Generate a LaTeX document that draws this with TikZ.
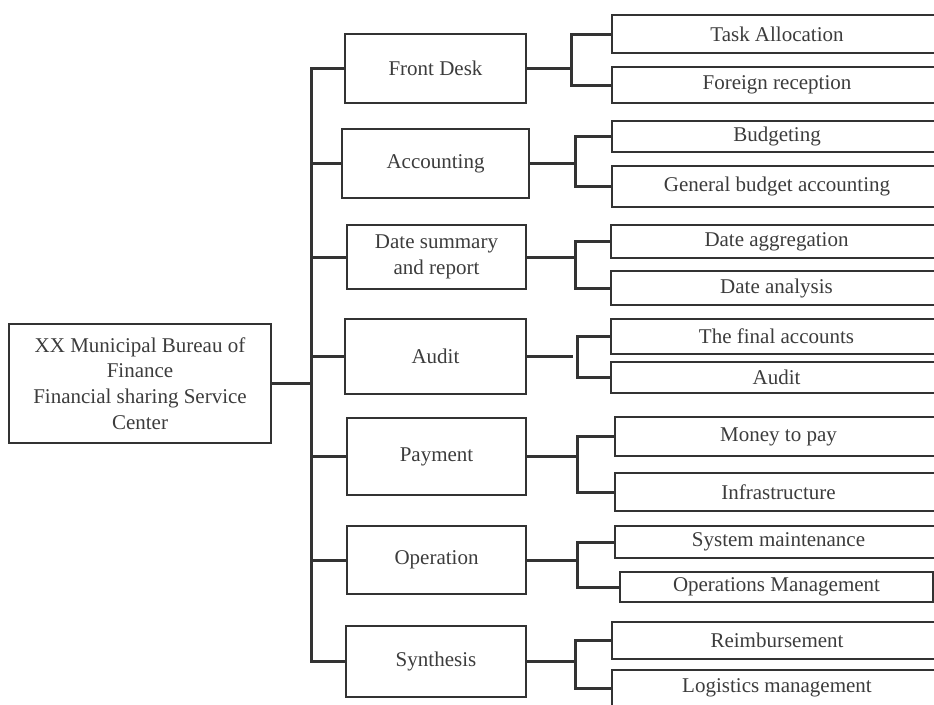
\documentclass[tikz,border=0pt]{standalone}
\usepackage{fontspec}
\setmainfont{Liberation Serif}
\definecolor{ink}{HTML}{333333}
\definecolor{txt}{HTML}{3C3C3C}
% \boxat{name}{left}{top}{right}{bottom}{text}
\newcommand\boxat[6]{%
  \node[orgbox, minimum width={(#4-#2)*1pt}, minimum height={(#5-#3)*1pt}]
    (#1) at ({(#2+#4)/2},{(#3+#5)/2}) {#6};}
\begin{document}
\begin{tikzpicture}[x=1pt,y=-1pt,
  orgbox/.style={draw=ink, line width=2.9pt, inner sep=0pt, text=txt,
    font=\fontsize{21}{25.8}\selectfont, align=center},
  link/.style={draw=ink, line width=3pt}]
\useasboundingbox (0,0) rectangle (934,704);
\clip (0,0) rectangle (934,704);

% root
\boxat{root}{9}{324}{271}{443}{XX Municipal Bureau of\\Finance\\Financial sharing Service\\Center}

% departments
\boxat{fd}{345}{34}{526}{103}{Front Desk}
\boxat{ac}{342}{129}{529}{198}{Accounting}
\boxat{ds}{347}{225}{526}{289}{Date summary\\and report}
\boxat{au}{345}{319}{526}{394}{Audit}
\boxat{pa}{347}{418}{526}{495}{Payment}
\boxat{op}{347}{526}{526}{594}{Operation}
\boxat{sy}{346}{626}{526}{697}{Synthesis}

% functions
\boxat{ta}{612}{15}{942}{53}{Task Allocation}
\boxat{fr}{612}{67}{942}{103}{Foreign reception}
\boxat{bu}{612}{121}{942}{152}{Budgeting}
\boxat{gb}{612}{166}{942}{207}{General budget accounting}
\boxat{da}{611}{225}{942}{258}{Date aggregation}
\boxat{dn}{611}{271}{942}{305}{Date analysis}
\boxat{fa}{611}{319}{942}{354}{The final accounts}
\boxat{al}{611}{362}{942}{393}{Audit}
\boxat{mp}{615}{417}{942}{456}{Money to pay}
\boxat{in}{615}{473}{942}{511}{Infrastructure}
\boxat{sm}{615}{526}{942}{558}{System maintenance}
\boxat{om}{620}{572}{933}{602}{Operations Management}
\boxat{re}{612}{622}{942}{659}{Reimbursement}
\boxat{lg}{612}{670}{942}{706}{Logistics management}

% trunk
\coordinate (tr) at (311,383.5);
\draw[link] (root.east) -- (tr);
\draw[link] (fd.west) -| (tr) |- (sy.west);
\foreach \n in {ac,ds,au,pa,op}
  \draw[link] (\n.west) -- (\n.west -| tr);

% brackets
\coordinate (s1) at (571,68.5);
\draw[link] (fd.east) -- (s1);
\draw[link] (ta.west) -| (s1) |- (fr.west);

\coordinate (s2) at (575,163.5);
\draw[link] (ac.east) -- (s2);
\draw[link] (bu.west) -| (s2) |- (gb.west);

\coordinate (s3) at (575,257);
\draw[link] (ds.east) -- (s3);
\draw[link] (da.west) -| (s3) |- (dn.west);

\coordinate (a4) at (573,356.5);
\coordinate (s4) at (577,356.5);
\draw[link] (au.east) -- (a4);
\draw[link] (fa.west) -| (s4) |- (al.west);

\coordinate (s5) at (577,456.5);
\draw[link] (pa.east) -- (s5);
\draw[link] (mp.west) -| (s5) |- (in.west);

\coordinate (s6) at (577,560);
\draw[link] (op.east) -- (s6);
\draw[link] (sm.west) -| (s6) |- (om.west);

\coordinate (s7) at (575,661.5);
\draw[link] (sy.east) -- (s7);
\draw[link] (re.west) -| (s7) |- (lg.west);
\end{tikzpicture}
\end{document}
